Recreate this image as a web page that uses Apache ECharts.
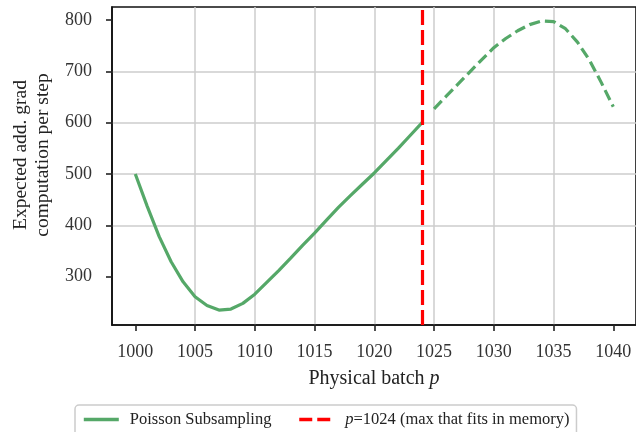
<!DOCTYPE html>
<html>
<head>
<meta charset="utf-8">
<script src="https://cdn.jsdelivr.net/npm/echarts@6/dist/echarts.min.js"></script>
<style>html,body{margin:0;padding:0;background:#fff;}#c{width:636px;height:432px;}</style>
</head>
<body>
<div id="c"></div>
<script>
// Physical batch sizes (within memory: solid) and their expected additional grad computation
const batchSolid = [1000,1001,1002,1003,1004,1005,1006,1007,1008,1009,1010,1011,1012,1013,1014,1015,1016,1017,1018,1019,1020,1021,1022,1023,1024];
const gradSolid  = [500,437,378,329,290,261,244,235,237,248,266,289,312,336,361,385,410,435,458,480,502,526,550,575,600];
// Beyond memory limit: dashed
const batchDashed = [1025,1026,1027,1028,1029,1030,1031,1032,1033,1034,1035,1036,1037,1038,1039,1040];
const gradDashed  = [627,651,675,699,723,746,764,779,791,798,797,783,757,722,678,631];
const memLimit = 1024;
const xTicks = [1000,1005,1010,1015,1020,1025,1030,1035,1040];
const yTicks = [300,400,500,600,700,800];
const seriesName = 'Poisson Subsampling';
const limitName = 'p=1024 (max that fits in memory)';

const FONT = 'Liberation Serif';
const chart = echarts.init(document.getElementById('c'), null, {renderer: 'canvas'});
chart.setOption({
  animation: false,
  backgroundColor: '#ffffff',
  grid: {left: 112, right: -1.3, top: 7, bottom: 107, show: true, borderColor: '#111', borderWidth: 1.6, backgroundColor: '#fff'},
  xAxis: {
    type: 'value', min: 998.05, max: 1041.9, splitNumber: 9,
    axisLine: {show: true, lineStyle: {color: '#111', width: 1.6}},
    axisTick: {show: true, length: 6, lineStyle: {color: '#222', width: 1.6}, customValues: xTicks},
    axisLabel: {customValues: xTicks, margin: 18, color: '#333', fontFamily: FONT, fontSize: 18,
      formatter: v => (xTicks.indexOf(v) >= 0 ? String(v) : '')},
    splitLine: {show: true, showMinLine: false, showMaxLine: false, lineStyle: {color: '#cccccc', width: 1.5}},
    name: '{n|Physical batch }{i|p}', nameLocation: 'middle', nameGap: 44,
    nameTextStyle: {rich: {
      n: {fontFamily: FONT, fontSize: 20, color: '#222'},
      i: {fontFamily: FONT, fontSize: 20, color: '#222', fontStyle: 'italic'}
    }}
  },
  yAxis: {
    type: 'value', min: 205.9, max: 825.3, splitNumber: 6,
    axisLine: {show: true, lineStyle: {color: '#111', width: 1.6}},
    axisTick: {show: true, length: 6, lineStyle: {color: '#222', width: 1.6}, customValues: yTicks},
    axisLabel: {customValues: yTicks, margin: 20, color: '#333', fontFamily: FONT, fontSize: 18,
      formatter: v => (yTicks.indexOf(v) >= 0 ? String(v) : '')},
    splitLine: {show: true, showMinLine: false, showMaxLine: false, lineStyle: {color: '#cccccc', width: 1.5}},
    name: 'Expected add. grad\ncomputation per step', nameLocation: 'middle', nameGap: 58,
    nameTextStyle: {fontFamily: FONT, fontSize: 19.5, color: '#222', lineHeight: 22, padding: [0, 0, 0, 22]}
  },
  legend: {
    left: 75, top: 405, orient: 'horizontal',
    data: [{name: seriesName}, {name: limitName}],
    itemWidth: 35, itemHeight: 14, itemGap: 26,
    padding: [6, 7, 16, 7],
    itemStyle: {opacity: 0},
    lineStyle: {width: 3.6},
    borderColor: '#cccccc', borderWidth: 1.5, borderRadius: 4, backgroundColor: '#fff',
    formatter: name => name === limitName ? '{i|p}{n|=1024 (max that fits in memory)}' : '{n|' + name + '}',
    textStyle: {padding: [0, 0, 0, 6], rich: {
      n: {fontFamily: FONT, fontSize: 16.5, color: '#222'},
      i: {fontFamily: FONT, fontSize: 16.5, color: '#222', fontStyle: 'italic'}
    }}
  },
  series: [
    {
      name: seriesName, type: 'line', symbol: 'none', z: 3,
      data: batchSolid.map((p, i) => [p, gradSolid[i]]),
      lineStyle: {color: '#55a868', width: 3.2}, itemStyle: {color: '#55a868'}
    },
    {
      name: 'beyond memory', type: 'line', symbol: 'none', z: 3,
      data: batchDashed.map((p, i) => [p, gradDashed[i]]),
      lineStyle: {color: '#55a868', width: 3.2, type: [11, 5]}, itemStyle: {color: '#55a868'}
    },
    {
      name: limitName, type: 'line', symbol: 'none', data: [], z: 4,
      lineStyle: {color: '#ff0000', width: 3.2, type: [13, 5]}, itemStyle: {color: '#ff0000'},
      markLine: {
        silent: true, symbol: 'none', label: {show: false},
        lineStyle: {color: '#ff0000', width: 3.2, type: [15, 5]},
        data: [{xAxis: memLimit}]
      }
    }
  ]
});
</script>
</body>
</html>
